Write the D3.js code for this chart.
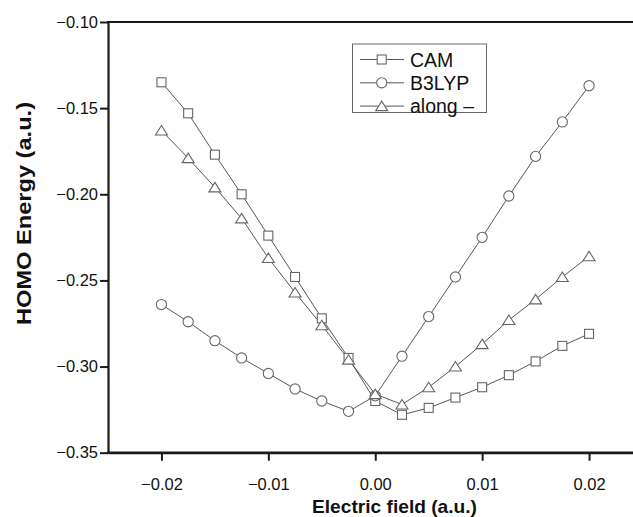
<!DOCTYPE html>
<html>
<head>
<meta charset="utf-8">
<script src="https://cdn.jsdelivr.net/npm/d3@7"></script>
<style>
  html, body { margin: 0; padding: 0; background: #fff; }
  svg { display: block; }
  text { font-family: "Liberation Sans", Arial, Helvetica, sans-serif; fill: #111; }
</style>
</head>
<body>
<svg id="chart" width="633" height="517"></svg>
<script>
// ---- data ----
const fieldValues = [-0.02, -0.0175, -0.015, -0.0125, -0.01, -0.0075, -0.005, -0.0025, 0,
                     0.0025, 0.005, 0.0075, 0.01, 0.0125, 0.015, 0.0175, 0.02];
const camValues = [-0.135, -0.153, -0.177, -0.200, -0.224, -0.248, -0.272, -0.295, -0.320,
                   -0.328, -0.324, -0.318, -0.312, -0.305, -0.297, -0.288, -0.281];
const b3lypValues = [-0.264, -0.274, -0.285, -0.295, -0.304, -0.313, -0.320, -0.326, -0.317,
                     -0.294, -0.271, -0.248, -0.225, -0.201, -0.178, -0.158, -0.137];
const alongValues = [-0.163, -0.179, -0.196, -0.214, -0.237, -0.257, -0.276, -0.296, -0.316,
                     -0.322, -0.312, -0.300, -0.287, -0.273, -0.261, -0.248, -0.236];
const seriesNames = ["CAM", "B3LYP", "along \u2013"];
const seriesMarkers = ["square", "circle", "triangle"];
const xTicks = [-0.02, -0.01, 0.00, 0.01, 0.02];
const yTicks = [-0.35, -0.30, -0.25, -0.20, -0.15, -0.10];
const xTitle = "Electric field (a.u.)";
const yTitle = "HOMO Energy (a.u.)";

const seriesValues = [camValues, b3lypValues, alongValues];

// ---- layout ----
const svg = d3.select("#chart");
const padL = 108, padR = 642.5, padT = 22, padB = 452.7;
const x = d3.scaleLinear().domain([-0.025, 0.025]).range([padL, padR]);
const y = d3.scaleLinear().domain([-0.35, -0.10]).range([padB, padT]);
const fmt = d3.format(".2f");

function drawMarker(g, type) {
  if (type === "square") {
    g.append("rect").attr("x", -4.5).attr("y", -4.5).attr("width", 9).attr("height", 9);
  } else if (type === "circle") {
    g.append("circle").attr("r", 5.1);
  } else {
    g.append("path").attr("d", "M0,-5 L6,4.5 L-6,4.5 Z");
  }
  g.selectAll("*").attr("fill", "#fff").attr("stroke", "#666").attr("stroke-width", 1.1);
}

// lines and markers
const line = d3.line().x((d, i) => x(fieldValues[i])).y(d => y(d));
seriesValues.forEach((vals, si) => {
  svg.append("path").datum(vals).attr("d", line)
    .attr("fill", "none").attr("stroke", "#444").attr("stroke-width", 0.9);
});
seriesValues.forEach((vals, si) => {
  const g = svg.append("g");
  vals.forEach((v, i) => {
    const mg = g.append("g").attr("transform", `translate(${x(fieldValues[i])},${y(v)})`);
    drawMarker(mg, seriesMarkers[si]);
  });
});

// axes
const xAxis = d3.axisBottom(x).tickValues(xTicks).tickFormat(fmt).tickSize(8).tickSizeOuter(0).tickPadding(18);
const gx = svg.append("g").attr("transform", `translate(0,${padB})`).call(xAxis);
const yAxis = d3.axisLeft(y).tickValues(yTicks).tickFormat(fmt).tickSize(8).tickSizeOuter(0).tickPadding(2);
const gy = svg.append("g").attr("transform", `translate(${padL},0)`).call(yAxis);
[gx, gy].forEach(g => {
  g.select(".domain").attr("stroke", "#1a1a1a").attr("stroke-width", 2.2);
  g.selectAll(".tick line").attr("stroke", "#1a1a1a").attr("stroke-width", 2);
  g.selectAll(".tick text").attr("font-size", 16.5).attr("fill", "#111")
    .attr("font-family", "Liberation Sans, Arial, sans-serif");
});
// top frame line
svg.append("line").attr("x1", padL - 1).attr("x2", 633).attr("y1", padT).attr("y2", padT)
  .attr("stroke", "#1a1a1a").attr("stroke-width", 2.2);
// extend bottom to edge
svg.append("line").attr("x1", padL - 1).attr("x2", 633).attr("y1", padB).attr("y2", padB)
  .attr("stroke", "#1a1a1a").attr("stroke-width", 2.2);

// titles
svg.append("text").attr("x", 394.5).attr("y", 513).attr("text-anchor", "middle")
  .attr("font-size", 19).attr("font-weight", "bold")
  .attr("textLength", 165).attr("lengthAdjust", "spacingAndGlyphs").text(xTitle);
svg.append("text").attr("transform", "translate(31,213.5) rotate(-90)").attr("text-anchor", "middle")
  .attr("font-size", 20).attr("font-weight", "bold")
  .attr("textLength", 223).attr("lengthAdjust", "spacingAndGlyphs").text(yTitle);

// legend
const lg = svg.append("g");
lg.append("rect").attr("x", 352.5).attr("y", 44).attr("width", 134).attr("height", 68.5)
  .attr("fill", "#fff").attr("stroke", "#666").attr("stroke-width", 1);
seriesNames.forEach((name, i) => {
  const cy = 59.5 + i * 23.3;
  lg.append("line").attr("x1", 360).attr("x2", 404).attr("y1", cy).attr("y2", cy)
    .attr("stroke", "#444").attr("stroke-width", 0.9);
  const mg = lg.append("g").attr("transform", `translate(381.7,${cy})`);
  drawMarker(mg, seriesMarkers[i]);
  lg.append("text").attr("x", 410).attr("y", cy).attr("dy", "0.36em")
    .attr("font-size", 19.5).text(name);
});
</script>
</body>
</html>
